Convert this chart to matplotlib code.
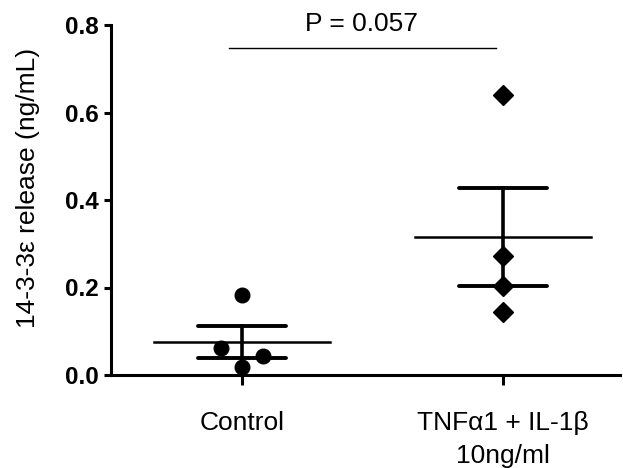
import matplotlib
matplotlib.use("Agg")
import matplotlib.pyplot as plt
import numpy as np

plt.rcParams['font.family'] = ['Liberation Sans', 'DejaVu Sans']

categories = ["Control", "TNF\u03b11 + IL-1\u03b2\n10ng/ml"]
control_vals = [0.182, 0.062, 0.043, 0.018]
control_jitter = [0.0, -0.08, 0.08, 0.0]
tnf_vals = [0.640, 0.273, 0.204, 0.145]
tnf_jitter = [0.0, 0.0, 0.0, 0.0]
p_text = "P = 0.057"
y_ticks = [0.0, 0.2, 0.4, 0.6, 0.8]
y_label = "14-3-3\u03b5 release (ng/mL)"

fig = plt.figure(figsize=(6.23, 4.68), dpi=100)
ax = fig.add_axes([111/623, 1-375/468, (620-111)/623, (375-25)/468])

groups = [(control_vals, control_jitter, 'o', 10.5), (tnf_vals, tnf_jitter, 'D', 10)]
for i, (vals, jit, mk, ms) in enumerate(groups):
    v = np.array(vals)
    mean = v.mean()
    sem = v.std(ddof=1) / np.sqrt(len(v))
    ax.plot([i + j for j in jit], v, linestyle='none', marker=mk, color='black',
            markersize=ms, zorder=3, clip_on=False)
    ax.plot([i - 0.337, i + 0.337], [mean, mean], color='black', lw=1.8, zorder=2)
    ax.plot([i, i], [mean - sem, mean + sem], color='black', lw=2.6, zorder=2)
    for yy in (mean - sem, mean + sem):
        ax.plot([i - 0.17, i + 0.17], [yy, yy], color='black', lw=2.8,
                solid_capstyle='round', zorder=2)

ax.set_xlim(-0.502, 1.448)
ax.set_ylim(0, 0.8)
ax.set_yticks(y_ticks)
ax.set_yticklabels([f"{t:.1f}" for t in y_ticks], fontsize=17.5, fontweight='bold')
ax.set_xticks([0, 1])
ax.set_xticklabels(categories, fontsize=19, linespacing=1.45)
ax.tick_params(axis='y', direction='out', length=5, width=2.2, pad=4)
ax.tick_params(axis='x', direction='out', length=7, width=2.2, pad=19)
for s in ('top', 'right'):
    ax.spines[s].set_visible(False)
for s in ('left', 'bottom'):
    ax.spines[s].set_linewidth(2.2)
ax.set_ylabel(y_label, fontsize=19, va='center')
ax.yaxis.set_label_coords(-0.163, 0.534)

ax.plot([-0.05, 0.973], [0.747, 0.747], color='black', lw=1.0, clip_on=False)
ax.text(0.456, 0.775, p_text, ha='center', va='bottom', fontsize=19, clip_on=False)

fig.savefig("out.png", dpi=100)
